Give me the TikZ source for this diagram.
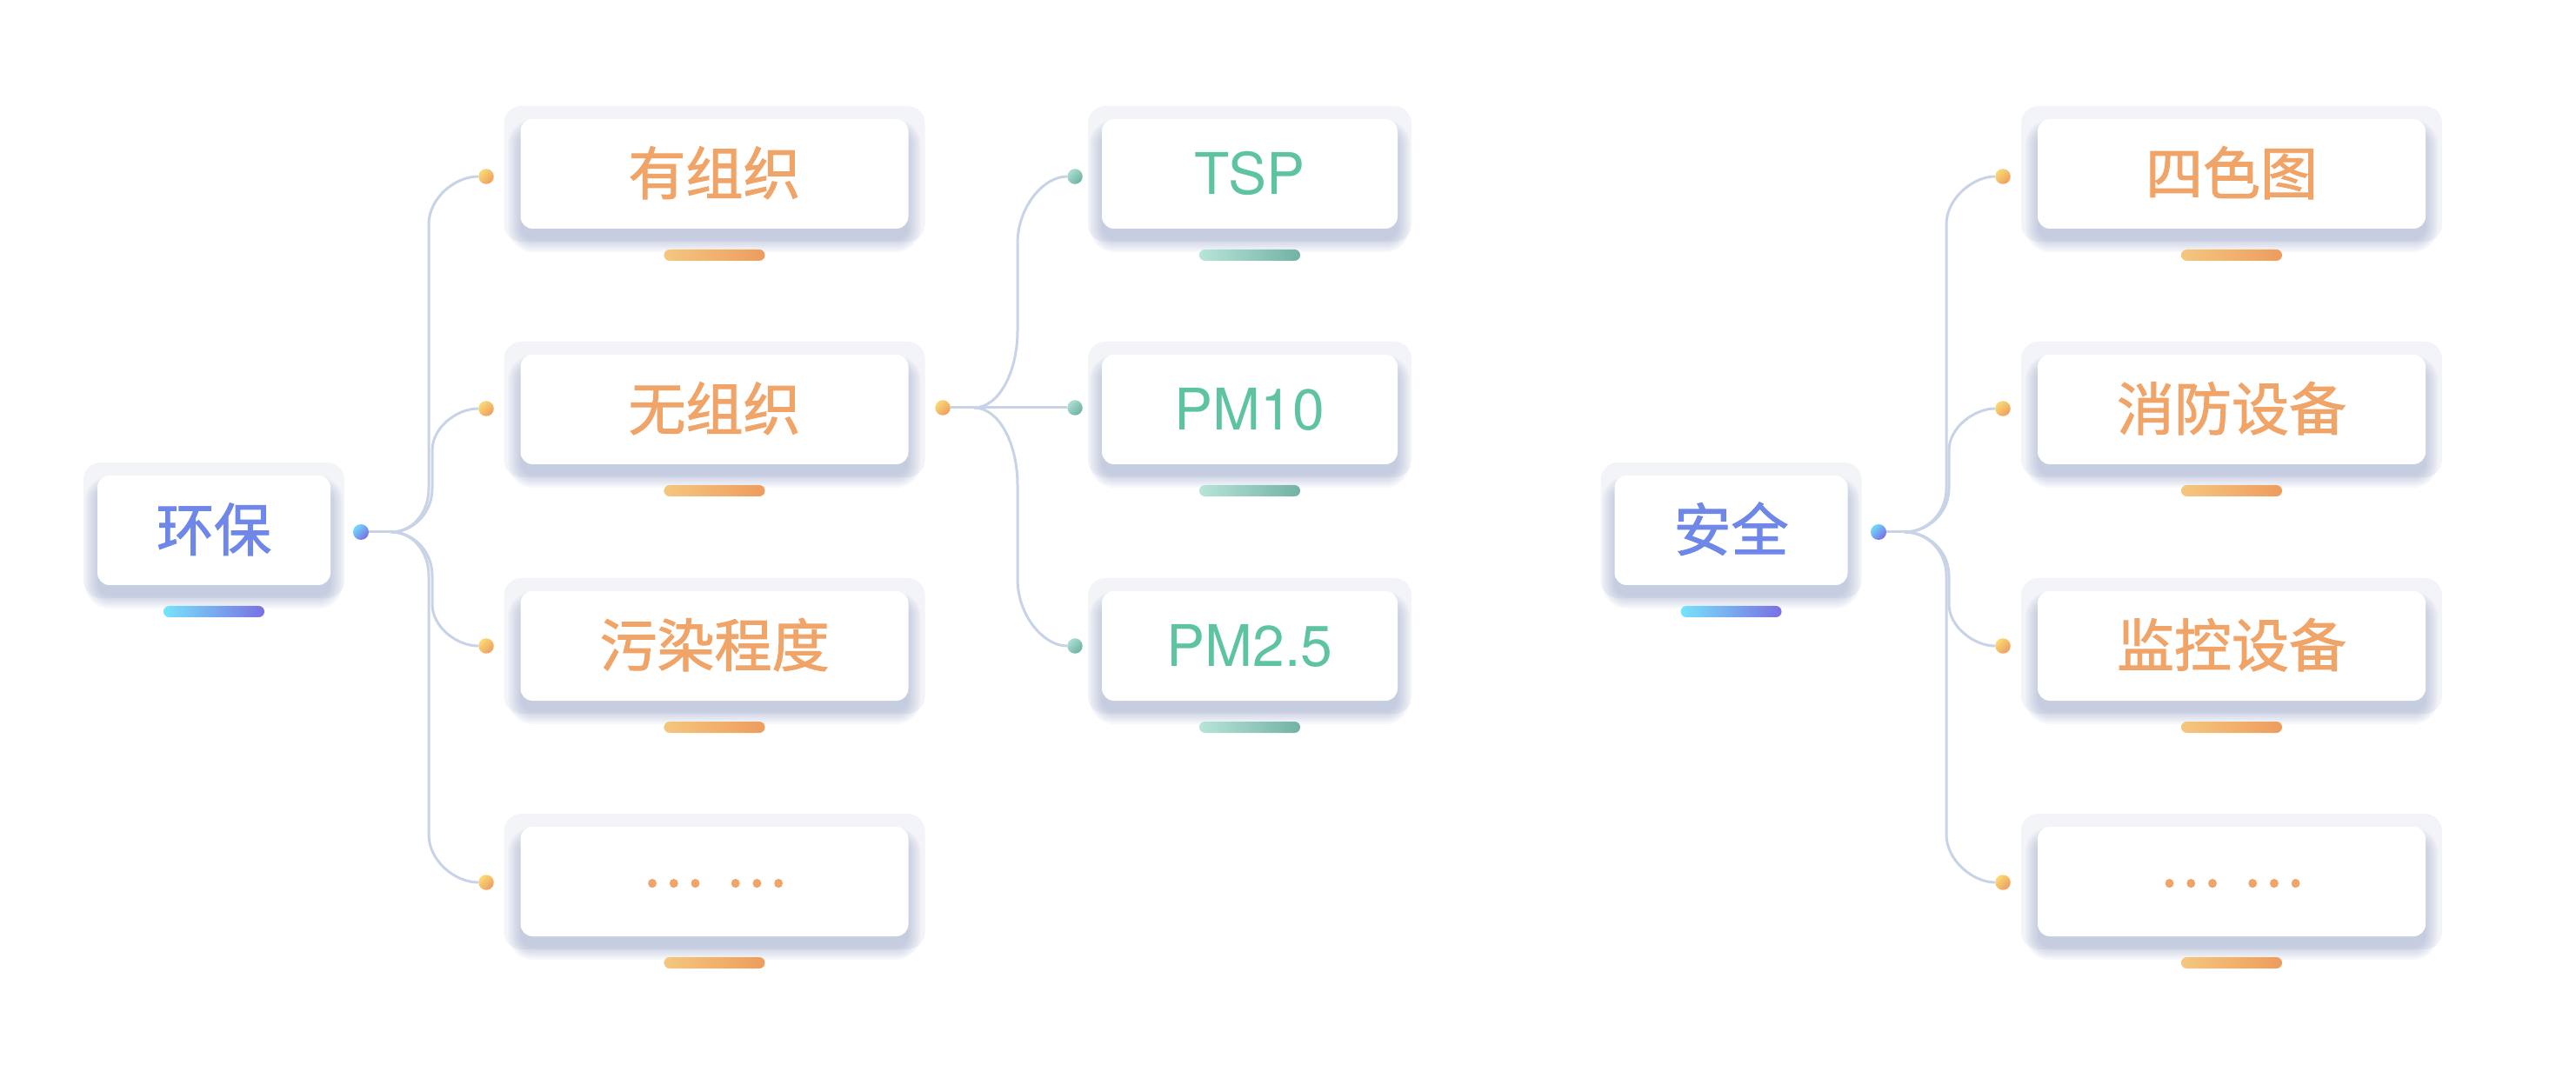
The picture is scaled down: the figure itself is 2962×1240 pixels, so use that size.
\documentclass[tikz,border=0pt]{standalone}
\usepackage{fontspec}
\setmainfont{TeX Gyre Heros}
\newfontfamily\cjk{Noto Sans CJK SC}[FakeBold=1.5]
\pgfdeclarelayer{bg}
\pgfsetlayers{bg,main}
\definecolor{framec}{HTML}{F3F4F8}
\definecolor{shadowc}{HTML}{9AA8CC}
\definecolor{connc}{HTML}{C9D3E8}
\definecolor{orangeT}{HTML}{F0A468}
\definecolor{greenT}{HTML}{5EC3A1}
\definecolor{blueT}{HTML}{6E87E8}
\definecolor{barO1}{HTML}{F4C77E}
\definecolor{barO2}{HTML}{EE9C5E}
\definecolor{barG1}{HTML}{B8E4D8}
\definecolor{barG2}{HTML}{72B2A5}
\definecolor{barB1}{HTML}{76E3FB}
\definecolor{barB2}{HTML}{7A70E2}
\definecolor{dotO1}{HTML}{F9DA74}
\definecolor{dotO2}{HTML}{EE9D5E}
\definecolor{dotG1}{HTML}{ACDED1}
\definecolor{dotG2}{HTML}{6BB2A3}
\definecolor{dotB1}{HTML}{6FDBF9}
\definecolor{dotB2}{HTML}{7B6BE5}
\tikzset{
  innerbox/.style={fill=white, rounded corners=7pt, minimum height=63pt, inner sep=0pt,
    text height=23.8pt, text depth=0pt, font=\fontsize{33pt}{40pt}\selectfont},
  conn/.style={draw=connc, line width=1.5pt},
  odot/.style={circle, inner sep=0pt, minimum size=8.75pt, top color=dotO1, bottom color=dotO2, shading angle=45},
  gdot/.style={circle, inner sep=0pt, minimum size=8.75pt, top color=dotG1, bottom color=dotG2, shading angle=45},
  bdot/.style={circle, inner sep=0pt, minimum size=9pt, top color=dotB1, bottom color=dotB2, shading angle=45},
  obar/.style={left color=barO1, right color=barO2},
  gbar/.style={left color=barG1, right color=barG2},
  bbar/.style={left color=barB1, right color=barB2},
}
\newcommand\mmdots{\raisebox{9pt}{…\hspace{5.5pt} …}}
% #1 name, #2 cx, #3 cy, #4 inner half width, #5 outer half width, #6 text, #7 bar style
\newcommand\mmbox[7]{%
  \fill[framec, rounded corners=10pt] ({#2-#5},{#3-78}) rectangle ({#2+#5},{#3+78});
  \foreach \e in {0,2,...,14}{%
    \fill[shadowc, opacity=0.075, rounded corners={(7+0.5*\e)*1pt}] ({#2-#4-\e},{#3-48-\e}) rectangle ({#2+#4+\e},{#3+76+\e});
  }
  \node[innerbox, minimum width={#4pt}] (#1) at (#2,#3) {#6};
  \shade[#7, rounded corners=3.25pt] ({#2-58},{#3+87}) rectangle ({#2+58},{#3+100});
}
\begin{document}
\begin{tikzpicture}[x=0.5pt, y=-0.5pt]
\useasboundingbox (0,0) rectangle (2962,1240);
% boxes
\mmbox{rootL}{246}{610}{134}{150}{\cjk\color{blueT}环保}{bbar}
\mmbox{a1}{821.5}{200}{223}{242}{\cjk\color{orangeT}有组织}{obar}
\mmbox{a2}{821.5}{471}{223}{242}{\cjk\color{orangeT}无组织}{obar}
\mmbox{a3}{821.5}{743}{223}{242}{\cjk\color{orangeT}污染程度}{obar}
\mmbox{a4}{821.5}{1014}{223}{242}{\cjk\color{orangeT}\mmdots}{obar}
\mmbox{b1}{1437}{200}{170}{186}{\color{greenT}TSP}{gbar}
\mmbox{b2}{1437}{471}{170}{186}{\color{greenT}PM10}{gbar}
\mmbox{b3}{1437}{743}{170}{186}{\color{greenT}PM2.5}{gbar}
\mmbox{rootR}{1990.5}{610}{134}{150}{\cjk\color{blueT}安全}{bbar}
\mmbox{c1}{2566}{200}{223}{242}{\cjk\color{orangeT}四色图}{obar}
\mmbox{c2}{2566}{471}{223}{242}{\cjk\color{orangeT}消防设备}{obar}
\mmbox{c3}{2566}{743}{223}{242}{\cjk\color{orangeT}监控设备}{obar}
\mmbox{c4}{2566}{1014}{223}{242}{\cjk\color{orangeT}\mmdots}{obar}
% dots
\node[bdot] (dL) at (415,612) {};
\node[odot] (dA1) at (559,203) {};
\node[odot] (dA2) at (559,470) {};
\node[odot] (dA3) at (559,743) {};
\node[odot] (dA4) at (559,1015) {};
\node[odot] (dP) at (1084,469) {};
\node[gdot] (dB1) at (1236,203) {};
\node[gdot] (dB2) at (1236,469) {};
\node[gdot] (dB3) at (1236,743) {};
\node[bdot] (dR) at (2160,612) {};
\node[odot] (dC1) at (2303,203) {};
\node[odot] (dC2) at (2303,470) {};
\node[odot] (dC3) at (2303,743) {};
\node[odot] (dC4) at (2303,1015) {};
\coordinate (jL) at (450,612);
\coordinate (jP) at (1120,469);
\coordinate (jR) at (2190,612);
\begin{pgfonlayer}{bg}
\fill[white] (0,0) rectangle (2962,1240);
% left tree
\draw[conn] (dL) -- (jL);
\draw[conn] (jL) .. controls (474,612) and (493,590) .. (493,562) -- (493,258) .. controls (493,228) and (523,203) .. (dA1);
\draw[conn] (jL) .. controls (475,612) and (497,590) .. (497,562) -- (497,518) .. controls (497,492) and (525,470) .. (dA2);
\draw[conn] (jL) .. controls (475,612) and (497,634) .. (497,662) -- (497,695) .. controls (497,721) and (525,743) .. (dA3);
\draw[conn] (jL) .. controls (474,612) and (493,634) .. (493,662) -- (493,960) .. controls (493,990) and (523,1015) .. (dA4);
% second level
\draw[conn] (dP) -- (jP) -- (dB2);
\draw[conn] (jP) .. controls (1148,469) and (1170,429) .. (1170,380) -- (1170,280) .. controls (1170,238) and (1200,203) .. (dB1);
\draw[conn] (jP) .. controls (1148,469) and (1170,509) .. (1170,558) -- (1170,666) .. controls (1170,708) and (1200,743) .. (dB3);
% right tree
\draw[conn] (dR) -- (jR);
\draw[conn] (jR) .. controls (2216,612) and (2238,590) .. (2238,562) -- (2238,258) .. controls (2238,228) and (2269,203) .. (dC1);
\draw[conn] (jR) .. controls (2217,612) and (2241,590) .. (2241,562) -- (2241,518) .. controls (2241,492) and (2270,470) .. (dC2);
\draw[conn] (jR) .. controls (2217,612) and (2241,634) .. (2241,662) -- (2241,695) .. controls (2241,721) and (2270,743) .. (dC3);
\draw[conn] (jR) .. controls (2216,612) and (2238,634) .. (2238,662) -- (2238,960) .. controls (2238,990) and (2269,1015) .. (dC4);
\end{pgfonlayer}
\end{tikzpicture}
\end{document}
